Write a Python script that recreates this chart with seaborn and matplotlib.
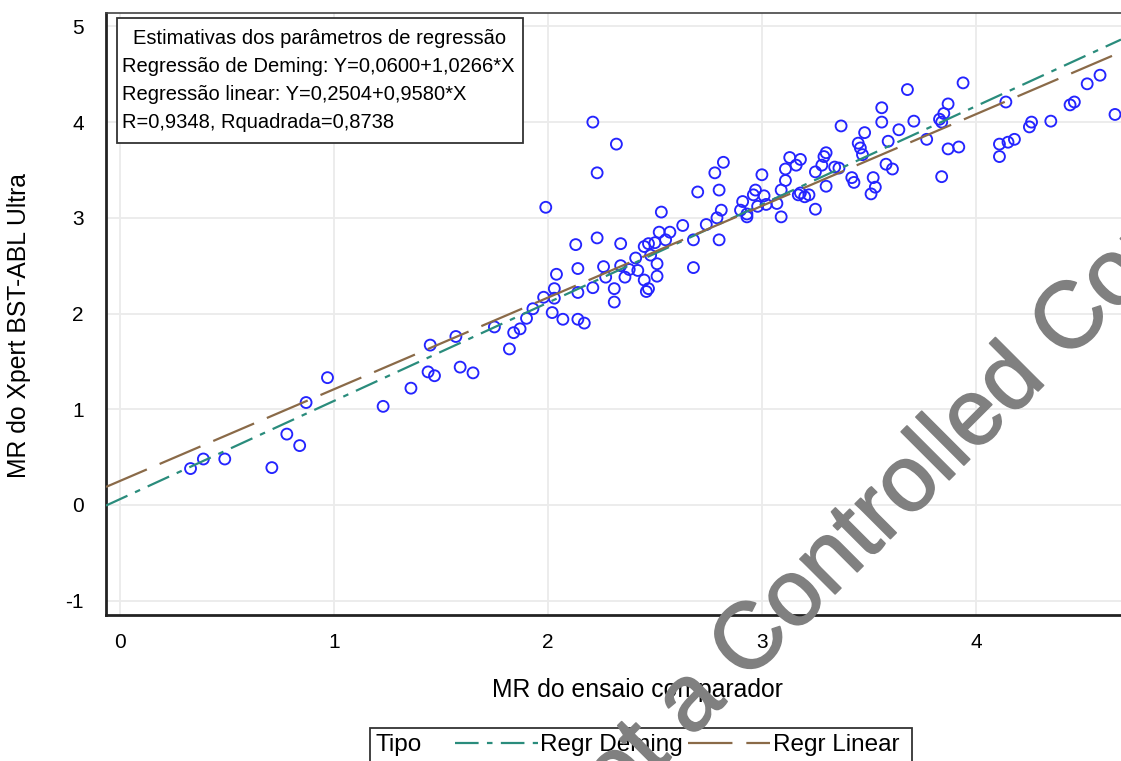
import matplotlib
matplotlib.use('Agg')
import matplotlib.pyplot as plt
import matplotlib.patheffects as pe
from matplotlib.patches import Rectangle
import numpy as np
import pandas as pd
import seaborn as sns

# ---------------- dados ----------------
mr_comparador = [
    0.33, 0.39, 0.49, 0.71, 0.78, 0.84, 0.87, 0.97, 1.23, 1.36,
    1.44, 1.45, 1.47, 1.57, 1.59, 1.65, 1.75, 1.82, 1.84, 1.87,
    1.90, 1.93, 1.98, 2.02, 1.99, 2.03, 2.03, 2.04, 2.07, 2.14,
    2.17, 2.13, 2.14, 2.14, 2.21, 2.23, 2.21, 2.32, 2.23, 2.26,
    2.27, 2.31, 2.31, 2.34, 2.34, 2.36, 2.38, 2.41, 2.42, 2.45,
    2.46, 2.47, 2.45, 2.47, 2.50, 2.48, 2.51, 2.51, 2.52, 2.55,
    2.57, 2.53, 2.63, 2.68, 2.68, 2.70, 2.74, 2.79, 2.80, 2.80,
    2.78, 2.82, 2.81, 2.90, 2.91, 2.93, 2.93, 2.96, 2.97, 2.98,
    3.01, 3.02, 3.00, 3.07, 3.09, 3.09, 3.11, 3.11, 3.13, 3.16,
    3.18, 3.17, 3.20, 3.22, 3.25, 3.25, 3.18, 3.28, 3.29, 3.30,
    3.30, 3.34, 3.36, 3.37, 3.42, 3.43, 3.45, 3.46, 3.47, 3.48,
    3.51, 3.52, 3.53, 3.56, 3.56, 3.58, 3.61, 3.59, 3.64, 3.68,
    3.71, 3.77, 3.83, 3.85, 3.84, 3.87, 3.87, 3.92, 3.84, 3.94,
    4.11, 4.11, 4.15, 4.18, 4.14, 4.25, 4.26, 4.35, 4.44, 4.46,
    4.52, 4.58, 4.65,
]
mr_xpert = [
    0.38, 0.48, 0.48, 0.39, 0.74, 0.62, 1.07, 1.33, 1.03, 1.22,
    1.39, 1.67, 1.35, 1.76, 1.44, 1.38, 1.86, 1.63, 1.80, 1.84,
    1.95, 2.05, 2.17, 2.01, 3.11, 2.26, 2.16, 2.41, 1.94, 1.94,
    1.90, 2.72, 2.47, 2.22, 2.27, 2.79, 4.00, 3.77, 3.47, 2.49,
    2.38, 2.26, 2.12, 2.73, 2.50, 2.38, 2.46, 2.58, 2.45, 2.35,
    2.23, 2.26, 2.70, 2.73, 2.74, 2.61, 2.52, 2.39, 2.85, 2.77,
    2.85, 3.06, 2.92, 2.77, 2.48, 3.27, 2.93, 3.00, 2.77, 3.29,
    3.47, 3.58, 3.08, 3.08, 3.17, 3.01, 3.04, 3.24, 3.29, 3.12,
    3.23, 3.14, 3.45, 3.15, 3.01, 3.29, 3.39, 3.51, 3.63, 3.55,
    3.61, 3.24, 3.22, 3.24, 3.09, 3.48, 3.26, 3.55, 3.64, 3.68,
    3.33, 3.53, 3.52, 3.96, 3.42, 3.37, 3.78, 3.73, 3.66, 3.89,
    3.25, 3.42, 3.32, 4.15, 4.00, 3.56, 3.51, 3.80, 3.92, 4.34,
    4.01, 3.82, 4.03, 4.09, 4.00, 4.19, 3.72, 3.74, 3.43, 4.41,
    3.64, 3.77, 3.79, 3.82, 4.21, 3.95, 4.00, 4.01, 4.18, 4.21,
    4.40, 4.49, 4.08,
]

tipos = ['Regr Deming', 'Regr Linear']
interceptos = [0.0600, 0.2504]
inclinacoes = [1.0266, 0.9580]
r_corr = 0.9348
r_quad = 0.8738

x_ticks = [0, 1, 2, 3, 4]
y_ticks = [-1, 0, 1, 2, 3, 4, 5]


def virgula(v):
    return f"{v:.4f}".replace('.', ',')


# ---------------- estilo ----------------
sns.set_theme(style='white')
plt.rcParams['font.family'] = ['Liberation Sans', 'DejaVu Sans']
plt.rcParams['lines.scale_dashes'] = False
plt.rcParams['axes.unicode_minus'] = False
plt.rcParams['text.color'] = 'black'
plt.rcParams['axes.labelcolor'] = 'black'

W, H = 1121, 761
fig = plt.figure(figsize=(W / 100, H / 100), dpi=100)
ax = fig.add_axes([106 / W, 1 - 615 / H, 1 - 106 / W, (615 - 13) / H])

xmin, xmax = -0.065, 4.678
ymin, ymax = -1.15, 5.14

# grade
for t in x_ticks:
    ax.axvline(t, color='#ebebeb', lw=1.3, zorder=0)
for t in y_ticks:
    ax.axhline(t, color='#ebebeb', lw=1.3, zorder=0)

# pontos
df = pd.DataFrame({'comp': mr_comparador, 'xpert': mr_xpert})
sns.scatterplot(data=df, x='comp', y='xpert', ax=ax, marker='o', s=62,
                facecolor='none', edgecolor='#2424ff', linewidth=1.35,
                zorder=3, legend=False)

# retas de regressão
cores = ['#2a8c7c', '#8a6a48']
tracos = [(17, 6, 4, 6), (32, 10)]
xs = np.array([xmin, xmax])
handles = []
for nome, a, b, cor, tr in zip(tipos, interceptos, inclinacoes, cores, tracos):
    linhas = pd.DataFrame({'x': xs, 'y': a + b * xs})
    sns.lineplot(data=linhas, x='x', y='y', ax=ax, color=cor, lw=1.6,
                 zorder=4, legend=False)
    ln = ax.lines[-1]
    ln.set_dashes(tr)
    ln.set_label(nome)
    handles.append(ln)

ax.set_xlim(xmin, xmax)
ax.set_ylim(ymin, ymax)
ax.set_xticks(x_ticks)
ax.set_yticks(y_ticks)
ax.tick_params(axis='both', direction='out', length=8, width=1.2,
               color='#555555', labelsize=15, labelcolor='black')
ax.tick_params(axis='y', pad=8)
ax.tick_params(axis='x', pad=5)
ax.set_xlabel('MR do ensaio comparador', fontsize=17.8)
ax.set_ylabel('MR do Xpert BST-ABL Ultra', fontsize=17.8)
ax.xaxis.set_label_coords((637 - 106) / (W - 106), -(678 - 615) / (615 - 13))
ax.yaxis.set_label_coords(-(106 - 31) / (W - 106), (615 - 325) / (615 - 13))

for lado in ['left', 'bottom']:
    ax.spines[lado].set_color('#222222')
    ax.spines[lado].set_linewidth(2.0)
ax.spines['top'].set_color('#444444')
ax.spines['top'].set_linewidth(1.2)
ax.spines['right'].set_visible(False)

# caixa com as estimativas
fig.patches.append(Rectangle((117 / W, 1 - 143 / H), (523 - 117) / W, (143 - 18) / H,
                             transform=fig.transFigure, facecolor='white',
                             edgecolor='#333333', lw=1.3, zorder=5))
fig.text(320 / W, 1 - 38 / H, 'Estimativas dos parâmetros de regressão',
         ha='center', va='center', fontsize=14.5, zorder=6)
fig.text(122 / W, 1 - 66 / H,
         f"Regressão de Deming: Y={virgula(interceptos[0])}+{virgula(inclinacoes[0])}*X",
         ha='left', va='center', fontsize=14.5, zorder=6)
fig.text(122 / W, 1 - 95 / H,
         f"Regressão linear: Y={virgula(interceptos[1])}+{virgula(inclinacoes[1])}*X",
         ha='left', va='center', fontsize=14.5, zorder=6)
fig.text(122 / W, 1 - 122 / H,
         f"R={virgula(r_corr)}, Rquadrada={virgula(r_quad)}",
         ha='left', va='center', fontsize=14.5, zorder=6)

# legenda embaixo
fig.patches.append(Rectangle((370 / W, 1 - 790 / H), (912 - 370) / W, (790 - 728) / H,
                             transform=fig.transFigure, facecolor='white',
                             edgecolor='#333333', lw=1.3, zorder=5))
fig.text(375 / W, 1 - 745 / H, 'Tipo', ha='left', va='center', fontsize=17.5, zorder=6)
leg = fig.legend(handles=handles, labels=tipos, loc='center left',
                 bbox_to_anchor=(455 / W, 1 - 745 / H), ncol=2, frameon=False,
                 fontsize=17.5, handlelength=3.4, handletextpad=0.1,
                 columnspacing=0.2, borderpad=0, borderaxespad=0)
leg.set_zorder(6)

# marca d'água
fig.text(895 / W, 1 - 534 / H, 'Not a Controlled Copy', rotation=45,
         rotation_mode='anchor', ha='center', va='baseline', fontsize=67.5,
         color='#808080', zorder=10,
         path_effects=[pe.withStroke(linewidth=1.2, foreground='#808080')])

fig.savefig('out.png', dpi=100)
